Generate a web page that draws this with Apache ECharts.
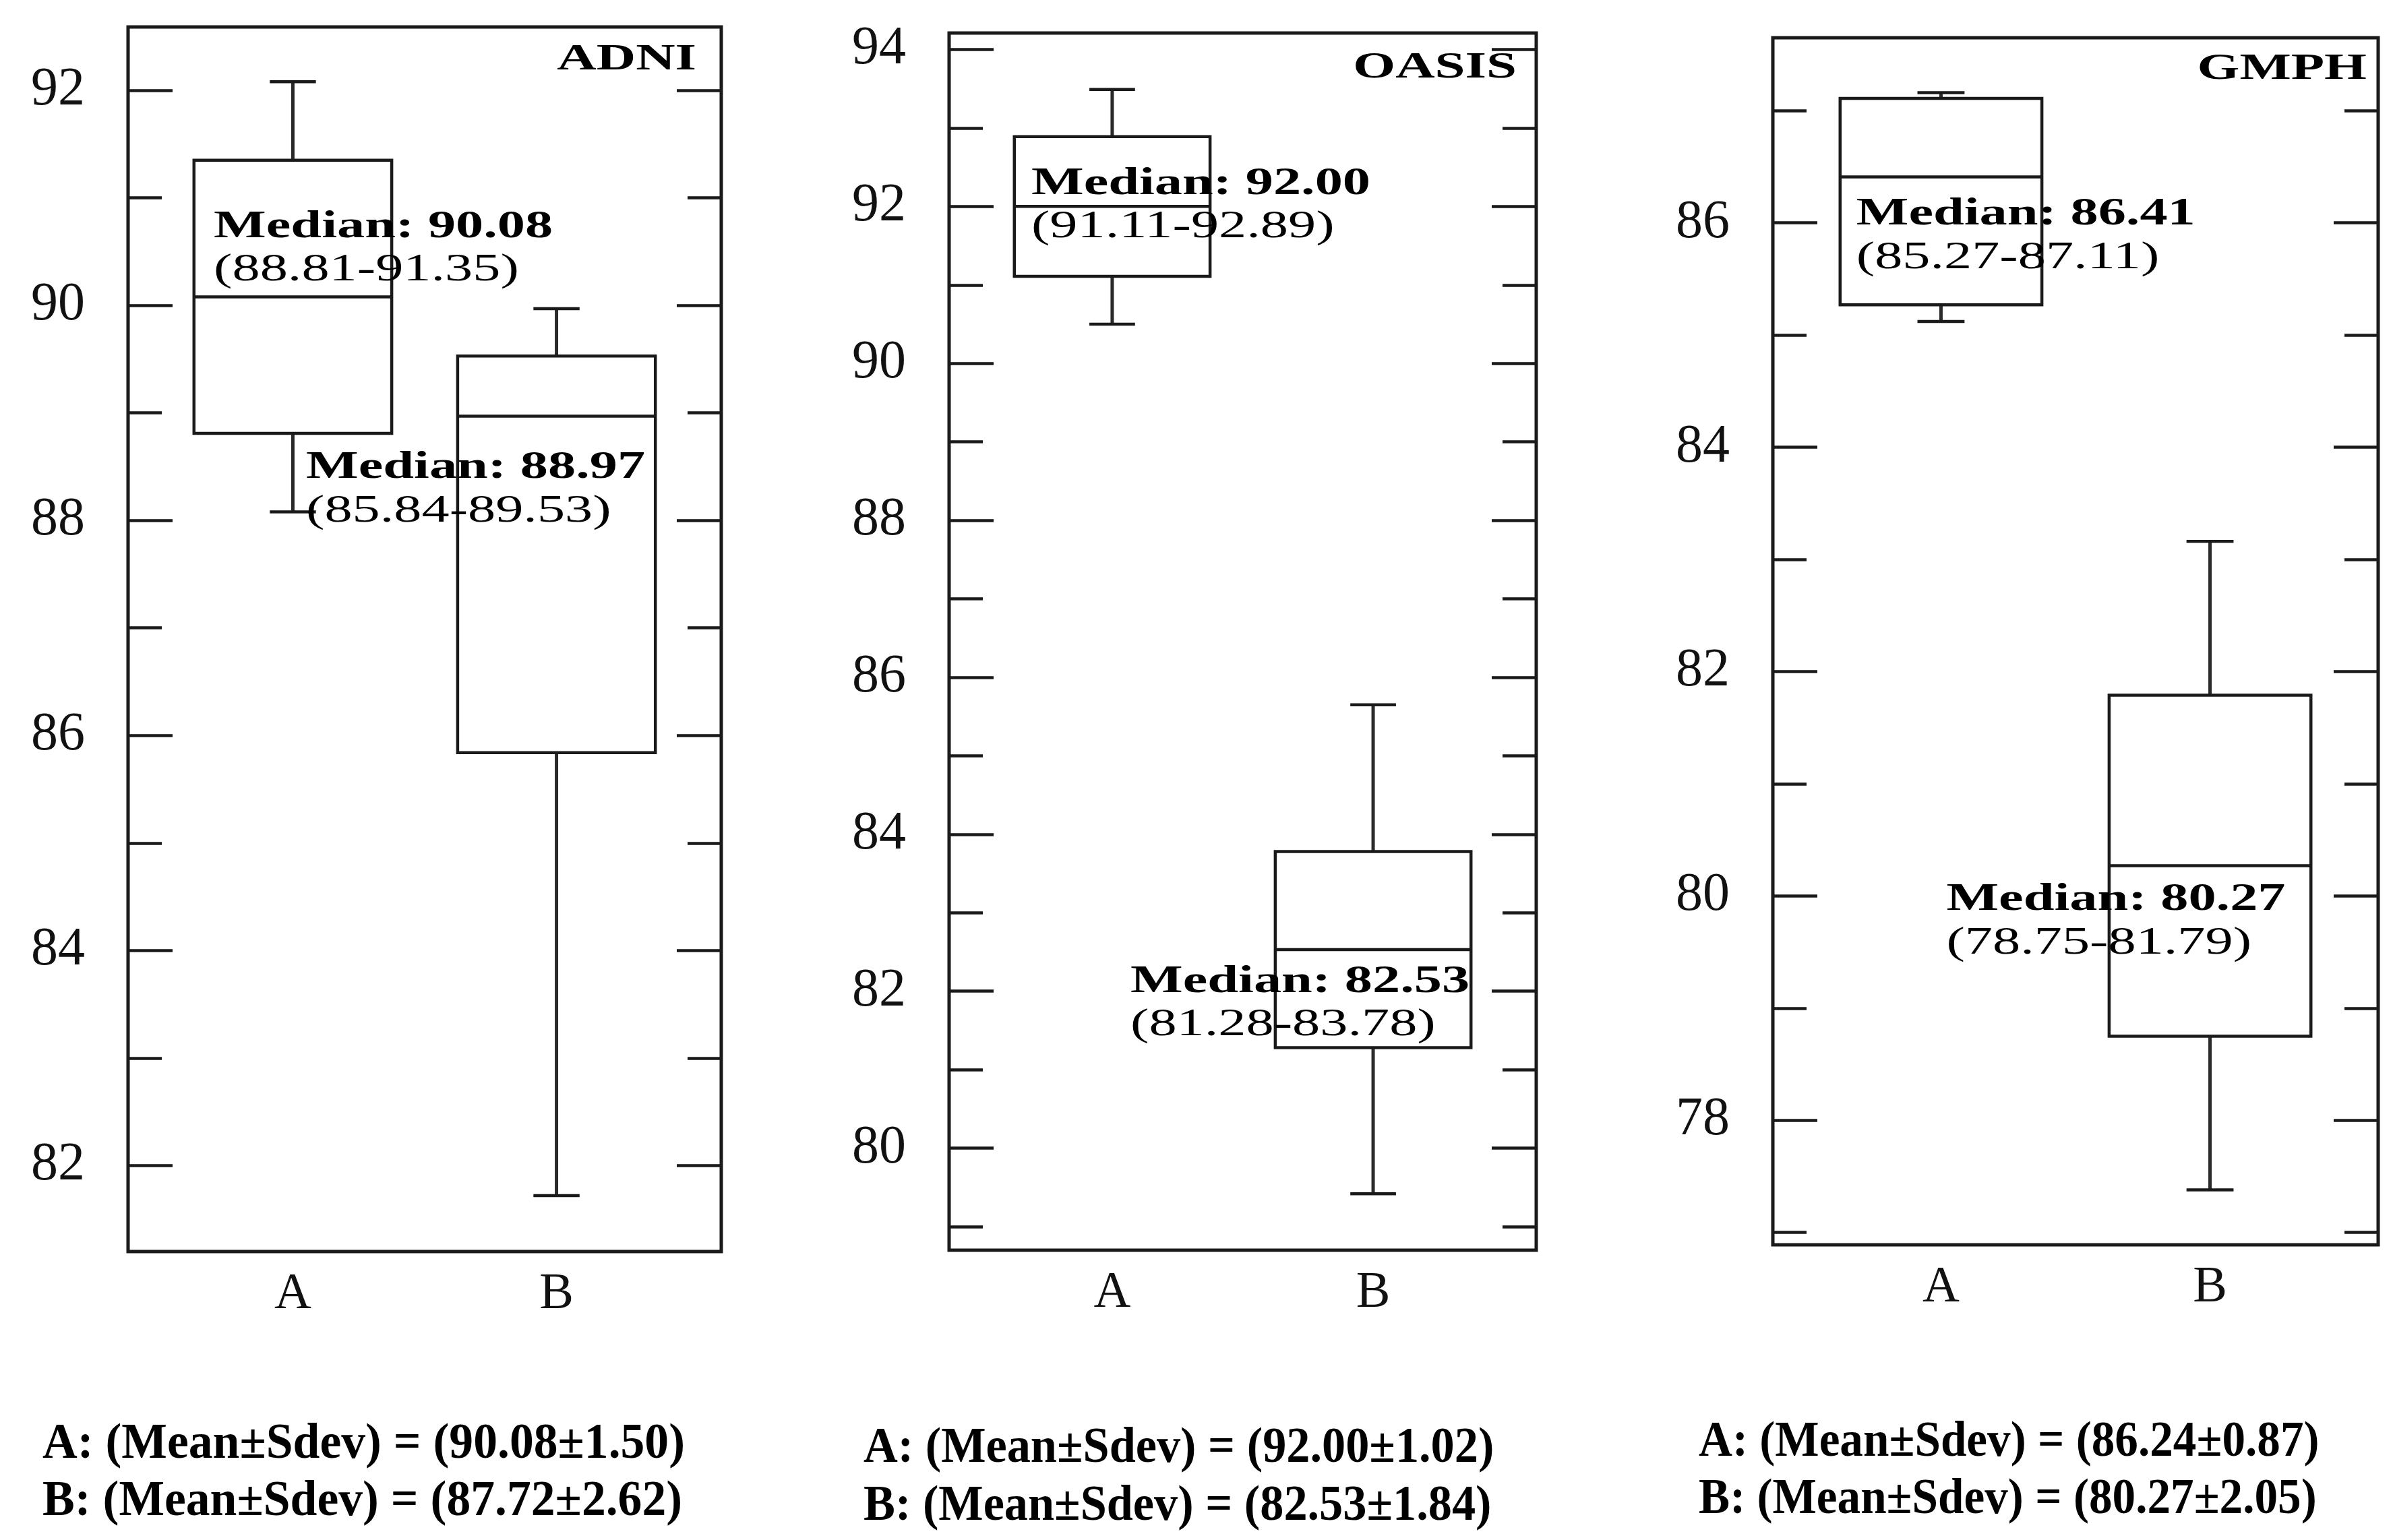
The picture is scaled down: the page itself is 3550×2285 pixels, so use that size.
<!DOCTYPE html>
<html><head><meta charset="utf-8">
<script src="https://cdn.jsdelivr.net/npm/echarts@6/dist/echarts.min.js"></script>
<style>html,body{margin:0;padding:0;background:#fff}#c{width:3550px;height:2285px}</style>
</head><body><div id="c"></div>
<script>
// ---------------- data ----------------
const categories = ['A', 'B'];
const panelNames = ['ADNI', 'OASIS', 'GMPH'];
// five-number summaries: [min, Q1, median, Q3, max]
const adniA  = [88.08, 88.81, 90.08, 91.35, 92.08];
const adniB  = [81.72, 85.84, 88.97, 89.53, 89.97];
const oasisA = [90.50, 91.11, 92.00, 92.89, 93.49];
const oasisB = [79.42, 81.28, 82.53, 83.78, 85.65];
const gmphA  = [85.12, 85.27, 86.41, 87.11, 87.16];
const gmphB  = [77.38, 78.75, 80.27, 81.79, 83.16];
const meanA = [90.08, 92.00, 86.24];
const sdevA = [1.50, 1.02, 0.87];
const meanB = [87.72, 82.53, 80.27];
const sdevB = [2.62, 1.84, 2.05];
const yTicksADNI  = [82, 84, 86, 88, 90, 92];
const yTicksOASIS = [80, 82, 84, 86, 88, 90, 92, 94];
const yTicksGMPH  = [78, 80, 82, 84, 86];

// ---------------- layout ----------------
const panelBoxes = [[adniA, adniB], [oasisA, oasisB], [gmphA, gmphB]];
const panelTicks = [yTicksADNI, yTicksOASIS, yTicksGMPH];
const yRanges = [[81.20, 92.59], [78.70, 94.21], [76.89, 87.65]];
const grids = [
  {left: 190, top: 40, width: 880, height: 1817},
  {left: 1408, top: 49, width: 871, height: 1806},
  {left: 2630, top: 56, width: 898, height: 1791}
];
// median label anchor: [x offset from category (axis units), baseline value]
const labelSpots = [
  [[-0.30, 90.62], [-0.95, 88.38]],
  [[-0.31, 92.14], [-0.93, 81.97]],
  [[-0.315, 85.97], [-0.98, 79.86]]
];
const titleSpots = [[1033, 105], [2250, 117], [3511, 119]];
const statSpots = [[63, 2166, 2251, 0.968], [1281, 2172, 2258, 0.95], [2520, 2163, 2248, 0.935]];

const LINE = '#1a1a1a';
const SERIF = '"Liberation Serif", "Times New Roman", serif';
const BOX_W = 0.75, CAP_W = 0.175;
const TXT_SX = 1.47, LBL_FS = 56;

function makeRender(p) {
  return function (params, api) {
    const xi = api.value(0);
    const mn = api.value(1), q1 = api.value(2), md = api.value(3), q3 = api.value(4), mx = api.value(5);
    const unit = api.size([1, 0])[0];
    const cx = api.coord([xi, md])[0];
    const y = v => api.coord([xi, v])[1];
    const hw = unit * BOX_W / 2, cw = unit * CAP_W / 2;
    const ws = {stroke: '#2a2a2a', lineWidth: 5, fill: null};
    const ls = {stroke: LINE, lineWidth: 4.5, fill: null};
    const spot = labelSpots[p][params.dataIndex];
    const lp = api.coord([xi + spot[0], spot[1]]);
    return {
      type: 'group',
      children: [
        {type: 'line', shape: {x1: cx, y1: y(mx), x2: cx, y2: y(q3)}, style: ws},
        {type: 'line', shape: {x1: cx, y1: y(q1), x2: cx, y2: y(mn)}, style: ws},
        {type: 'line', shape: {x1: cx - cw, y1: y(mx), x2: cx + cw, y2: y(mx)}, style: ls},
        {type: 'line', shape: {x1: cx - cw, y1: y(mn), x2: cx + cw, y2: y(mn)}, style: ls},
        {type: 'rect', shape: {x: cx - hw, y: y(q3), width: 2 * hw, height: y(q1) - y(q3)}, style: {stroke: LINE, lineWidth: 4.5, fill: 'none'}},
        {type: 'line', shape: {x1: cx - hw, y1: y(md), x2: cx + hw, y2: y(md)}, style: ls},
        {type: 'text', x: lp[0], y: lp[1] - 0.3 * LBL_FS, scaleX: TXT_SX,
          style: {text: 'Median: ' + md.toFixed(2), fontFamily: SERIF, fontWeight: 'bold', fontSize: LBL_FS, fill: '#000', align: 'left', verticalAlign: 'middle'}},
        {type: 'text', x: lp[0], y: lp[1] + 64 - 0.3 * LBL_FS, scaleX: TXT_SX,
          style: {text: '(' + q1.toFixed(2) + '-' + q3.toFixed(2) + ')', fontFamily: SERIF, fontWeight: 'normal', fontSize: LBL_FS, fill: '#000', align: 'left', verticalAlign: 'middle'}}
      ]
    };
  };
}

const option = {
  backgroundColor: '#fff',
  animation: false,
  grid: grids.map(g => Object.assign({show: true, borderColor: LINE, borderWidth: 5, backgroundColor: 'transparent', containLabel: false}, g)),
  xAxis: grids.map((g, i) => ({
    type: 'value', gridIndex: i, min: -0.625, max: 1.625,
    axisLine: {show: false, onZero: false}, axisTick: {show: false}, splitLine: {show: false},
    axisLabel: {
      customValues: [0, 1], margin: 26,
      fontFamily: SERIF, fontSize: 76, color: '#111',
      formatter: v => (Math.abs(v - Math.round(v)) < 1e-9 && categories[Math.round(v)]) || ''
    }
  })),
  yAxis: [].concat(...grids.map((g, i) => [false, true].map(right => ({
    type: 'value', gridIndex: i, position: right ? 'right' : 'left',
    min: yRanges[i][0], max: yRanges[i][1], minInterval: 2, maxInterval: 2,
    axisLine: {show: false, onZero: false}, splitLine: {show: false},
    axisTick: {show: true, inside: true, length: 66, customValues: panelTicks[i], lineStyle: {color: LINE, width: 4.5}},
    minorTick: {show: true, splitNumber: 2, length: 50, lineStyle: {color: LINE, width: 4.5}},
    axisLabel: right ? {show: false} : {
      show: true, customValues: panelTicks[i], margin: 64,
      fontFamily: SERIF, fontSize: 80, color: '#111',
      showMinLabel: true, showMaxLabel: true
    }
  })))),
  series: panelBoxes.map((boxes, p) => ({
    type: 'custom', name: panelNames[p], xAxisIndex: p, yAxisIndex: p * 2,
    renderItem: makeRender(p),
    encode: {x: 0, y: [1, 2, 3, 4, 5]},
    data: boxes.map((b, k) => [k].concat(b)),
    clip: false
  })),
  graphic: [].concat(
    panelNames.map((n, p) => ({
      type: 'text', x: titleSpots[p][0], y: titleSpots[p][1] - 0.3 * 55, scaleX: 1.47,
      style: {text: n, fontFamily: SERIF, fontWeight: 'bold', fontSize: 55, fill: '#000', align: 'right', verticalAlign: 'middle'}
    })),
    [].concat(...panelNames.map((n, p) => [
      {type: 'text', x: statSpots[p][0], y: statSpots[p][1] - 0.3 * 74, scaleX: statSpots[p][3],
        style: {text: 'A: (Mean\u00B1Sdev) = (' + meanA[p].toFixed(2) + '\u00B1' + sdevA[p].toFixed(2) + ')', fontFamily: SERIF, fontWeight: 'bold', fontSize: 74, fill: '#000', align: 'left', verticalAlign: 'middle'}},
      {type: 'text', x: statSpots[p][0], y: statSpots[p][2] - 0.3 * 74, scaleX: statSpots[p][3],
        style: {text: 'B: (Mean\u00B1Sdev) = (' + meanB[p].toFixed(2) + '\u00B1' + sdevB[p].toFixed(2) + ')', fontFamily: SERIF, fontWeight: 'bold', fontSize: 74, fill: '#000', align: 'left', verticalAlign: 'middle'}}
    ]))
  )
};

const chart = echarts.init(document.getElementById('c'), null, {renderer: 'canvas'});
chart.setOption(option);
</script>
</body></html>
